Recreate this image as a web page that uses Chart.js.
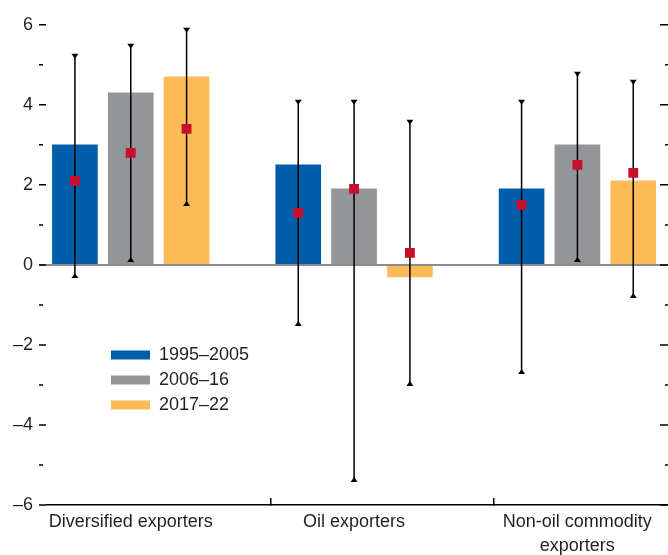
<!DOCTYPE html>
<html><head><meta charset="utf-8">
<script src="https://cdn.jsdelivr.net/npm/chart.js@4.4.1/dist/chart.umd.min.js"></script>
<style>
html,body{margin:0;padding:0;background:#fff;overflow:hidden}
#wrap{position:relative;width:668px;height:555px;overflow:hidden}
canvas{display:block}
</style></head><body>
<div id="wrap"><canvas id="c" width="724" height="555" style="width:724px;height:555px"></canvas></div>
<script>
// ---- data ----
const categories = ['Diversified exporters', 'Oil exporters', ['Non-oil commodity', 'exporters']];
const seriesNames = ['1995–2005', '2006–16', '2017–22'];
const bars1995 = [3.0, 2.5, 1.9];
const bars2006 = [4.3, 1.9, 3.0];
const bars2017 = [4.7, -0.3, 2.1];
const median1995 = [2.1, 1.3, 1.5];
const median2006 = [2.8, 1.9, 2.5];
const median2017 = [3.4, 0.3, 2.3];
const high1995 = [5.25, 4.1, 4.1];
const low1995 = [-0.3, -1.5, -2.7];
const high2006 = [5.5, 4.1, 4.8];
const low2006 = [0.1, -5.4, 0.1];
const high2017 = [5.9, 3.6, 4.6];
const low2017 = [1.5, -3.0, -0.8];
const yMin = -6, yMax = 6, yStep = 1;

// ---- styling ----
const colors = ['#005DAA', '#939598', '#FDBB58'];
const markerColor = '#C8102E';
const textColor = '#231F20';
const VISIBLE_W = 668;
const SLOTS = 4; // three bars plus one empty slot per category
const slotX = (i, k) => i - 0.5 + (k + 0.5) / SLOTS;

const barSeries = [bars1995, bars2006, bars2017];
const medians = [median1995, median2006, median2017];
const highs = [high1995, high2006, high2017];
const lows = [low1995, low2006, low2017];

const datasets = barSeries.map((d, k) => ({
  type: 'bar', label: seriesNames[k], xAxisID: 'xb', grouped: false,
  data: d.map((v, i) => ({ x: slotX(i, k), y: v })),
  backgroundColor: colors[k], borderWidth: 0, order: 2, barThickness: 45
}));
const markerPts = [];
medians.forEach((m, k) => m.forEach((v, i) => markerPts.push({ x: slotX(i, k), y: v })));
datasets.push({ type: 'scatter', label: 'median', data: markerPts, xAxisID: 'xb', order: 1,
  pointStyle: 'rect', pointRadius: 7, pointHoverRadius: 7, backgroundColor: markerColor, borderWidth: 0 });

const decor = {
  id: 'decor',
  afterLayout(chart) {
    const lg = chart.legend;
    if (!lg) return;
    const w = lg.width, h = lg.height;
    lg.left = 104; lg.top = 339; lg.right = lg.left + w; lg.bottom = lg.top + h;
  },
  afterDatasetDraw(chart, args) {
    if (args.index !== 0) return;
    const ctx = chart.ctx, y = chart.scales.y, ca = chart.chartArea;
    const y0 = y.getPixelForValue(0);
    ctx.save();
    ctx.strokeStyle = '#8C8C8C'; ctx.lineWidth = 2;
    ctx.beginPath(); ctx.moveTo(ca.left - 8, y0); ctx.lineTo(VISIBLE_W, y0); ctx.stroke();
    ctx.strokeStyle = '#000'; ctx.fillStyle = '#000'; ctx.lineWidth = 1.5;
    for (let k = 0; k < 3; k++) {
      const meta = chart.getDatasetMeta(k);
      meta.data.forEach((el, i) => {
        const x = el.x, yt = y.getPixelForValue(highs[k][i]), yb = y.getPixelForValue(lows[k][i]);
        ctx.beginPath(); ctx.moveTo(x, yt); ctx.lineTo(x, yb); ctx.stroke();
        ctx.beginPath(); ctx.moveTo(x - 3.5, yt - 1); ctx.lineTo(x + 3.5, yt - 1); ctx.lineTo(x, yt + 4); ctx.closePath(); ctx.fill();
        ctx.beginPath(); ctx.moveTo(x - 3.5, yb + 1); ctx.lineTo(x + 3.5, yb + 1); ctx.lineTo(x, yb - 4); ctx.closePath(); ctx.fill();
      });
    }
    ctx.restore();
  },
  afterDraw(chart) {
    const ctx = chart.ctx, y = chart.scales.y, ca = chart.chartArea;
    ctx.save();
    ctx.strokeStyle = '#000'; ctx.lineWidth = 1.5;
    for (let v = yMin; v <= yMax; v += yStep) {
      const p = y.getPixelForValue(v);
      const major = v % 2 === 0;
      ctx.beginPath();
      ctx.moveTo(ca.left - 8, p); ctx.lineTo(ca.left - (major ? 1 : 4), p);
      ctx.moveTo(VISIBLE_W - (major ? 8 : 3), p); ctx.lineTo(VISIBLE_W, p);
      ctx.stroke();
    }
    ctx.restore();
  }
};

new Chart(document.getElementById('c'), {
  type: 'bar',
  data: { labels: categories, datasets },
  plugins: [decor],
  options: {
    responsive: false, animation: false, devicePixelRatio: 1,
    layout: { padding: { top: 23, left: 0, right: 1, bottom: 0 } },
    plugins: {
      tooltip: { enabled: false },
      legend: {
        position: 'chartArea', align: 'start',
        labels: {
          boxWidth: 39, boxHeight: 9, padding: 7, color: textColor,
          font: { family: "'Liberation Sans', Arial, sans-serif", size: 18 },
          filter: item => item.datasetIndex < 3
        }
      }
    },
    scales: {
      x: {
        type: 'category', offset: true,
        grid: { offset: true, drawOnChartArea: false, drawTicks: true, tickLength: -7, lineWidth: 1.5,
          color: c => (c.index === 0 ? 'rgba(0,0,0,0)' : '#000') },
        border: { display: true, color: '#000', width: 1.5 },
        ticks: { autoSkip: false, maxRotation: 0, minRotation: 0, padding: 13, labelOffset: -28, color: textColor,
          font: { family: "'Liberation Sans', Arial, sans-serif", size: 18, lineHeight: 1.28 } },
        afterFit(s) { s.height = 50; }
      },
      xb: { type: 'linear', display: false, offset: false, min: -0.5, max: 2.5 },
      y: {
        min: yMin, max: yMax,
        grid: { display: false, drawTicks: false },
        border: { display: false },
        ticks: { stepSize: yStep, autoSkip: false, padding: 14, color: textColor,
          font: { family: "'Liberation Sans', Arial, sans-serif", size: 18 },
          callback: v => (v % 2 === 0 ? (v < 0 ? '–' + Math.abs(v) : String(v)) : '') },
        afterFit(s) { s.width = 47; }
      }
    }
  }
});
</script>
</body></html>
